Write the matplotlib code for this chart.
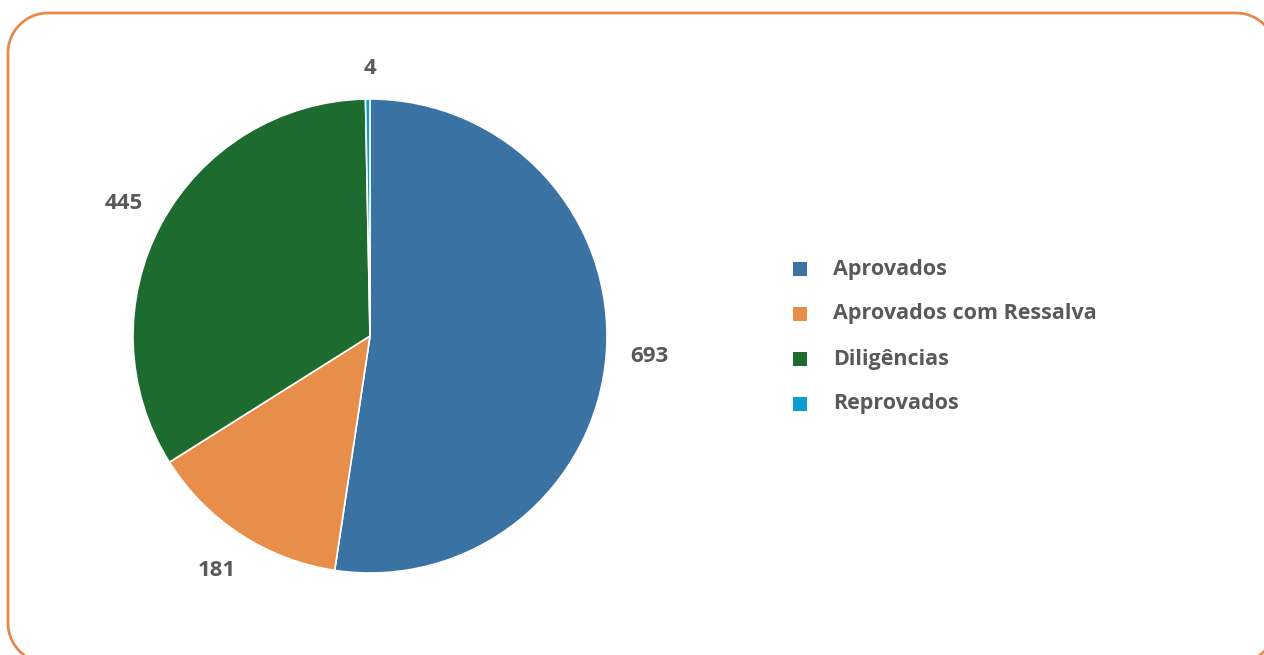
import numpy as np
import matplotlib.pyplot as plt
from matplotlib.patches import Rectangle

# data
categories = ['Aprovados', 'Aprovados com Ressalva', 'Diligências', 'Reprovados']
values = [693, 181, 445, 4]
colors = ['#3B72A4', '#E88E4B', '#1E6B2F', '#0E9BD2']

plt.rcParams['font.family'] = ['Open Sans', 'DejaVu Sans']
text_color = '#595959'

W, H = 1264, 655
fig = plt.figure(figsize=(W / 100, H / 100), dpi=100)

# background axes in pixel coords (y up), for the frame and the legend
bg = fig.add_axes([0, 0, 1, 1])
bg.set_xlim(0, W)
bg.set_ylim(0, H)
bg.axis('off')

# rounded orange frame (runs off the bottom/right edge like the original)
x0, x1, y_bot, y_top, r = 8, 1276, H - 663, H - 13, 40
t = np.linspace(0, np.pi / 2, 30)
xs = np.concatenate([x1 - r + r * np.cos(t), x0 + r - r * np.sin(t),
                     x0 + r - r * np.cos(t), x1 - r + r * np.sin(t)])
ys = np.concatenate([y_top - r + r * np.sin(t), y_top - r + r * np.cos(t),
                     y_bot + r - r * np.sin(t), y_bot + r - r * np.cos(t)])
xs = np.append(xs, xs[0])
ys = np.append(ys, ys[0])
bg.plot(xs, ys, color='#E8894A', linewidth=2, clip_on=False)

# pie - center (370,336) px from top, radius 237 px
cx, cy, R = 370, 336, 237
ax = fig.add_axes([(cx - R) / W, (H - cy - R) / H, 2 * R / W, 2 * R / H])
wedges, texts = ax.pie(values, labels=[str(v) for v in values], colors=colors,
                       startangle=90, counterclock=False, radius=1,
                       labeldistance=1.18,
                       wedgeprops=dict(edgecolor='white', linewidth=1.2),
                       textprops=dict(fontsize=16, fontweight='bold',
                                      color=text_color, ha='center',
                                      va='center'))
texts[3].set_position((0, 1.13))
ax.set_xlim(-1, 1)
ax.set_ylim(-1, 1)
ax.set_aspect('auto')
ax.axis('off')

# legend, drawn by hand
y0 = 269
for i, (name, c) in enumerate(zip(categories, colors)):
    y = H - (y0 + i * 45)
    bg.add_patch(Rectangle((793, y - 7), 14, 14, facecolor=c, edgecolor='none'))
    bg.text(833, y, name, fontsize=15.5, fontweight='bold',
            color=text_color, va='center', ha='left')

fig.savefig('out.png', dpi=100)
